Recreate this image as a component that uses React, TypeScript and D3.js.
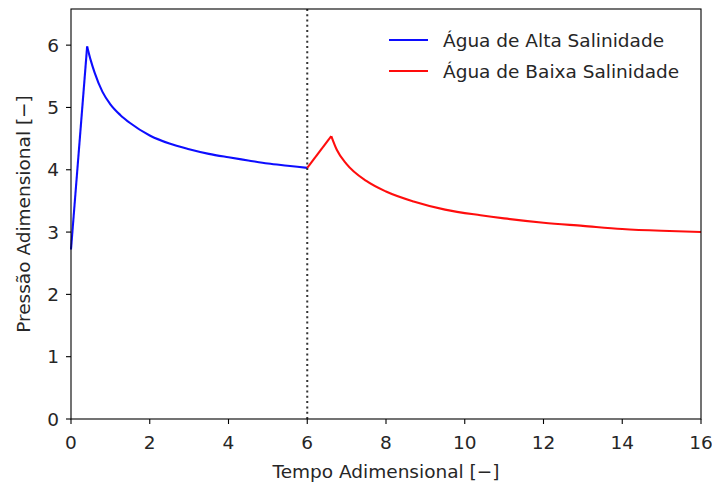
import React from "react";
import * as d3 from "d3";

const highT = [0, 0.41, 0.5, 0.6, 0.8, 1.0, 1.25, 1.5, 2.0, 2.5, 3.0, 3.5, 4.0, 4.5, 5.0, 5.5, 6.0];
const highP = [2.72, 5.98, 5.76, 5.56, 5.25, 5.05, 4.88, 4.75, 4.55, 4.42, 4.33, 4.255, 4.2, 4.15, 4.1, 4.065, 4.03];
const lowT = [6.0, 6.61, 6.75, 7.0, 7.5, 8.0, 8.7, 9.5, 10.4, 11.0, 12.0, 13.0, 14.0, 15.0, 16.0];
const lowP = [4.03, 4.54, 4.32, 4.09, 3.82, 3.65, 3.49, 3.36, 3.27, 3.22, 3.15, 3.1, 3.05, 3.02, 3.0];
const xTicks = [0, 2, 4, 6, 8, 10, 12, 14, 16];
const yTicks = [0, 1, 2, 3, 4, 5, 6];
const seriesNames = ["Água de Alta Salinidade", "Água de Baixa Salinidade"];
const seriesColors = ["#0000ff", "#ff0000"];
const switchTime = 6;
const xLabel = "Tempo Adimensional [−]";
const yLabel = "Pressão Adimensional [−]";

const W = 712;
const H = 485;
const L = 71, R = 701, T = 9, B = 419;
const FONT = "DejaVu Sans, sans-serif";
const FS = 18.5;

export default function App() {
  const x = d3.scaleLinear().domain([0, 16]).range([L, R]);
  const y = d3.scaleLinear().domain([0, 6.58]).range([B, T]);

  const mk = (ts: number[], ps: number[]) => ts.map((t, i) => [t, ps[i]] as [number, number]);
  const high = mk(highT, highP);
  const low = mk(lowT, lowP);

  const lin = d3.line<[number, number]>().x((d) => x(d[0])).y((d) => y(d[1])).curve(d3.curveLinear);
  const smooth = d3.line<[number, number]>().x((d) => x(d[0])).y((d) => y(d[1])).curve(d3.curveMonotoneX);

  const pathsFor = (data: [number, number][]) => [lin(data.slice(0, 2)) as string, smooth(data.slice(1)) as string];

  const series = [pathsFor(high), pathsFor(low)];

  return (
    <svg width={W} height={H} style={{ position: "absolute", left: 0, top: 0, display: "block", background: "#fff" }} fontFamily={FONT}>
      <rect x={0} y={0} width={W} height={H} fill="#fff" />
      {series.map((ps, si) =>
        ps.map((d, k) => (
          <path key={si + "-" + k} d={d} fill="none" stroke={seriesColors[si]} strokeWidth={2.1} strokeLinejoin="round" strokeLinecap="butt" opacity={0.95} />
        ))
      )}
      <line x1={x(switchTime)} x2={x(switchTime)} y1={B} y2={T} stroke="#333" strokeWidth={2} strokeDasharray="2,3.3" />
      <rect x={L} y={T} width={R - L} height={B - T} fill="none" stroke="#000" strokeWidth={1.1} />
      {xTicks.map((t) => (
        <g key={"x" + t}>
          <line x1={x(t)} x2={x(t)} y1={B} y2={B + 5} stroke="#000" strokeWidth={1.1} />
          <text x={x(t)} y={449} textAnchor="middle" fontSize={FS} fill="#262626">{t}</text>
        </g>
      ))}
      {yTicks.map((t) => (
        <g key={"y" + t}>
          <line x1={L - 5} x2={L} y1={y(t)} y2={y(t)} stroke="#000" strokeWidth={1.1} />
          <text x={L - 12} y={y(t)} dy="0.36em" textAnchor="end" fontSize={FS} fill="#262626">{t}</text>
        </g>
      ))}
      <text x={(L + R) / 2} y={478} textAnchor="middle" fontSize={FS} fill="#262626">{xLabel}</text>
      <text transform={`translate(30,${(T + B) / 2}) rotate(-90)`} textAnchor="middle" fontSize={FS} fill="#262626">{yLabel}</text>
      {seriesNames.map((n, i) => (
        <g key={n}>
          <line x1={389} x2={428} y1={40 + i * 31} y2={40 + i * 31} stroke={seriesColors[i]} strokeWidth={2.1} opacity={0.95} />
          <text x={443} y={40 + i * 31} dy="0.36em" fontSize={FS} fill="#262626">{n}</text>
        </g>
      ))}
    </svg>
  );
}
